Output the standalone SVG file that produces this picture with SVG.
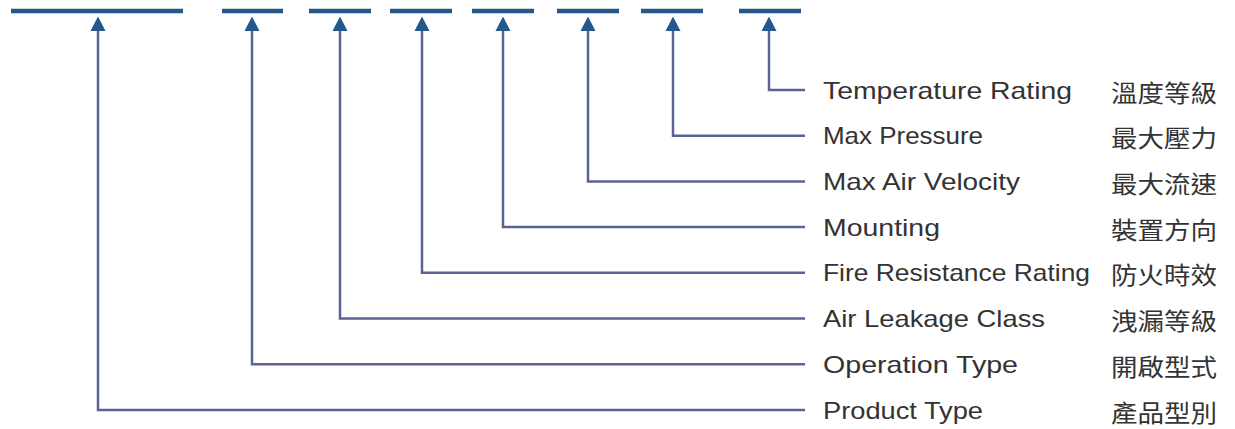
<svg xmlns="http://www.w3.org/2000/svg" width="1235" height="429" viewBox="0 0 1235 429">
<style>
.bar{stroke:#22588a;stroke-width:4.5;stroke-linecap:butt}
.head{fill:#22588a}
.con{fill:none;stroke:#5b6394;stroke-width:2.5;stroke-linejoin:miter}
.en{font-family:"Liberation Sans",Arial,sans-serif;font-size:24px;fill:#333}
.zh{font-family:"Noto Sans CJK TC","Noto Sans CJK SC",sans-serif;font-size:23.5px;fill:#333}
</style>
<rect width="1235" height="429" fill="#ffffff"/>
<g id="bars">
<line class="bar" x1="11" y1="11" x2="183" y2="11"/>
<line class="bar" x1="222" y1="11" x2="283" y2="11"/>
<line class="bar" x1="309" y1="11" x2="371" y2="11"/>
<line class="bar" x1="390" y1="11" x2="452" y2="11"/>
<line class="bar" x1="472" y1="11" x2="534" y2="11"/>
<line class="bar" x1="557" y1="11" x2="619" y2="11"/>
<line class="bar" x1="641" y1="11" x2="703" y2="11"/>
<line class="bar" x1="739" y1="11" x2="801" y2="11"/>
</g>
<g id="connectors">
<path class="con" d="M769 29 V90 H805"/>
<path class="con" d="M673 29 V135.7 H805"/>
<path class="con" d="M588 29 V181.4 H805"/>
<path class="con" d="M503 29 V227.1 H805"/>
<path class="con" d="M422 29 V272.8 H805"/>
<path class="con" d="M340 29 V318.5 H805"/>
<path class="con" d="M252 29 V364.2 H805"/>
<path class="con" d="M98 29 V410 H805"/>
<polygon class="head" points="769,16.5 761.5,31 776.5,31"/>
<polygon class="head" points="673,16.5 665.5,31 680.5,31"/>
<polygon class="head" points="588,16.5 580.5,31 595.5,31"/>
<polygon class="head" points="503,16.5 495.5,31 510.5,31"/>
<polygon class="head" points="422,16.5 414.5,31 429.5,31"/>
<polygon class="head" points="340,16.5 332.5,31 347.5,31"/>
<polygon class="head" points="252,16.5 244.5,31 259.5,31"/>
<polygon class="head" points="98,16.5 90.5,31 105.5,31"/>
</g>
<g id="temperature-rating">
<text class="en" x="823" y="98.5" textLength="249" lengthAdjust="spacingAndGlyphs">Temperature Rating</text>
<text class="zh" x="1111" y="101.5" textLength="106" lengthAdjust="spacingAndGlyphs">溫度等級</text>
</g>
<g id="max-pressure">
<text class="en" x="823" y="144.2" textLength="160" lengthAdjust="spacingAndGlyphs">Max Pressure</text>
<text class="zh" x="1111" y="147.2" textLength="106" lengthAdjust="spacingAndGlyphs">最大壓力</text>
</g>
<g id="max-air-velocity">
<text class="en" x="823" y="189.9" textLength="197" lengthAdjust="spacingAndGlyphs">Max Air Velocity</text>
<text class="zh" x="1111" y="192.9" textLength="106" lengthAdjust="spacingAndGlyphs">最大流速</text>
</g>
<g id="mounting">
<text class="en" x="823" y="235.6" textLength="117" lengthAdjust="spacingAndGlyphs">Mounting</text>
<text class="zh" x="1111" y="238.6" textLength="106" lengthAdjust="spacingAndGlyphs">裝置方向</text>
</g>
<g id="fire-resistance-rating">
<text class="en" x="823" y="281.3" textLength="267" lengthAdjust="spacingAndGlyphs">Fire Resistance Rating</text>
<text class="zh" x="1111" y="284.3" textLength="106" lengthAdjust="spacingAndGlyphs">防火時效</text>
</g>
<g id="air-leakage-class">
<text class="en" x="823" y="327" textLength="222" lengthAdjust="spacingAndGlyphs">Air Leakage Class</text>
<text class="zh" x="1111" y="330" textLength="106" lengthAdjust="spacingAndGlyphs">洩漏等級</text>
</g>
<g id="operation-type">
<text class="en" x="823" y="372.7" textLength="195" lengthAdjust="spacingAndGlyphs">Operation Type</text>
<text class="zh" x="1111" y="375.7" textLength="106" lengthAdjust="spacingAndGlyphs">開啟型式</text>
</g>
<g id="product-type">
<text class="en" x="823" y="418.5" textLength="160" lengthAdjust="spacingAndGlyphs">Product Type</text>
<text class="zh" x="1111" y="421.5" textLength="106" lengthAdjust="spacingAndGlyphs">產品型別</text>
</g>
</svg>
